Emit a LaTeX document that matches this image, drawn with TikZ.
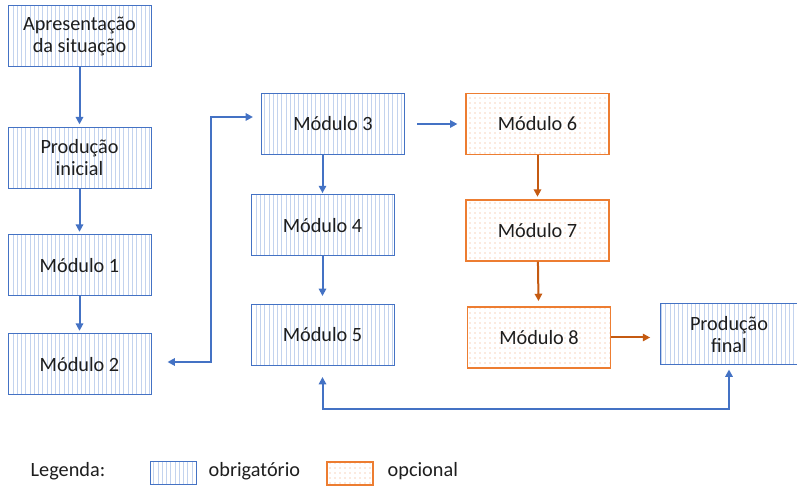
\documentclass[tikz,border=0pt]{standalone}
\usepackage{fontspec}
\setmainfont{Carlito}
\usetikzlibrary{patterns.meta,arrows.meta}
\definecolor{bblue}{HTML}{4472C4}
\definecolor{lblue}{HTML}{C3D3EE}
\definecolor{borange}{HTML}{ED7D31}
\definecolor{darange}{HTML}{C55A11}
\definecolor{lorange}{HTML}{F2A878}
\definecolor{txt}{HTML}{1E1E1E}
\begin{document}
\begin{tikzpicture}[x=0.75pt,y=-0.75pt,
  font=\fontsize{15.2}{16.5}\selectfont, text=txt,
  obox/.style={draw=bblue, line width=0.75pt, minimum width=107.25pt, minimum height=45.75pt,
     align=center, inner sep=0pt,
     pattern={Lines[angle=90,distance=3.2pt,line width=0.45pt]}, pattern color=lblue},
  pbox/.style={draw=borange, line width=0.9pt, minimum width=107.25pt, minimum height=45.75pt,
     align=center, inner sep=0pt,
     pattern={Dots[distance=3.75pt,radius=0.5pt]}, pattern color=lorange},
  barr/.style={draw=bblue, line width=1.5pt, -{Triangle[length=5.5pt,width=5.5pt]}},
  oarr/.style={draw=darange, line width=1.5pt, -{Triangle[length=5.5pt,width=5.5pt]}},
  darr/.style={draw=bblue, line width=1.5pt, {Triangle[length=5.5pt,width=5.5pt]}-{Triangle[length=5.5pt,width=5.5pt]}}
]
\useasboundingbox[fill=white] (0,0) rectangle (797,488);

\node[obox] (ap) at (79.5,36.5) {Apresentação\\da situação};
\node[obox] (pi) at (79.5,158) {Produção\\inicial};
\node[obox] (m1) at (79.5,265.5) {Módulo 1};
\node[obox] (m2) at (79.5,364.5) {Módulo 2};
\node[obox] (m3) at (333,124) {Módulo 3};
\node[obox] (m4) at (322.5,225.5) {Módulo 4};
\node[obox] (m5) at (322.5,335) {Módulo 5};
\node[pbox] (m6) at (537.5,124) {Módulo 6};
\node[pbox] (m7) at (537.5,230.5) {Módulo 7};
\node[pbox] (m8) at (539,337.5) {Módulo 8};
\node[obox, minimum width=103.5pt] (pf) at (729,334.5) {Produção\\final};

\draw[barr, shorten >=2pt] (ap) -- (pi);
\draw[barr, shorten >=2pt] (pi) -- (m1);
\draw[barr, shorten >=2pt] (m1) -- (m2);
\draw[barr, shorten >=1pt] (m3.south -| m4.north) -- (m4.north);
\draw[barr, shorten >=6pt] (m4) -- (m5);
\draw[barr, shorten <=9pt, shorten >=6pt] (m3) -- (m6);
\draw[oarr, shorten >=2pt] (m6) -- (m7);
\draw[oarr, shorten >=4pt] (m7) -- (m8);
\draw[oarr, shorten >=7pt] (m8) -- (m8 -| pf.west);

\draw[darr] ([shift={(16,-2.5)}]m2.east) -| (211,117) -- ([shift={(-8,-7)}]m3.west);
\draw[darr] ([shift={(0,11)}]m5.south) |- ([shift={(0,44)}]pf.south) -- ([shift={(0,4)}]pf.south);

% legend
\node[anchor=west] (lg) at (26,471) {Legenda:};
\node[obox, minimum width=34.5pt, minimum height=17.25pt] (lo) at (173,473.5) {};
\node[anchor=west] (lot) at (204,471) {obrigatório};
\node[pbox, minimum width=34.5pt, minimum height=17.25pt] (lp) at (350,473.5) {};
\node[anchor=west] (lpt) at (383,471) {opcional};
\end{tikzpicture}
\end{document}
